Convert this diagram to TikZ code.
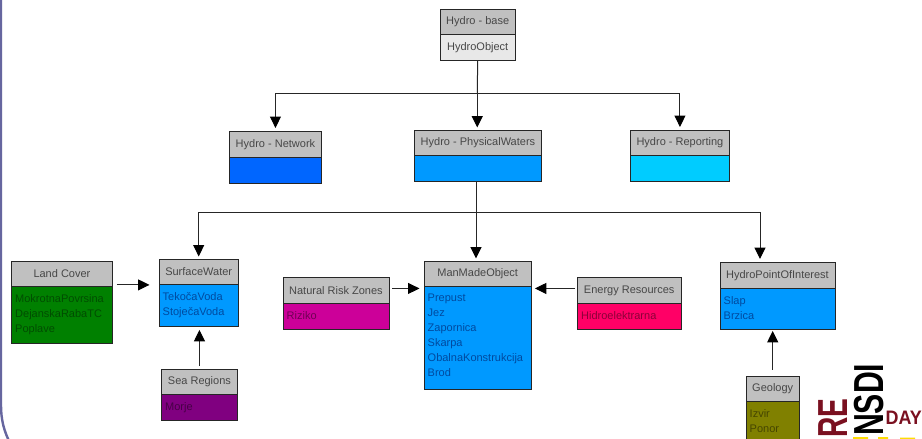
\documentclass[tikz,border=0pt]{standalone}
\usepackage{fontspec}
\setmainfont{Liberation Sans}
\usetikzlibrary{arrows.meta}
\definecolor{hdrgray}{HTML}{C0C0C0}
\definecolor{basegray}{HTML}{E8E8E8}
\definecolor{blueA}{HTML}{0066FF}
\definecolor{blueB}{HTML}{0099FF}
\definecolor{blueC}{HTML}{00CCFF}
\definecolor{greenB}{HTML}{008000}
\definecolor{purpleB}{HTML}{800080}
\definecolor{magB}{HTML}{CC0099}
\definecolor{redB}{HTML}{FF0066}
\definecolor{oliveB}{HTML}{808000}
\definecolor{framec}{HTML}{66669F}
\definecolor{logored}{HTML}{7A1020}
\definecolor{blueT}{HTML}{004A9F}
\definecolor{greenT}{HTML}{004D00}
\tikzset{
  x=1pt,y=-1pt,
  boxline/.style={draw=black!85,line width=0.9pt},
  hdrtext/.style={text=black!72,font=\fontsize{11}{12}\selectfont,inner sep=0pt},
  bodytext/.style={font=\fontsize{11}{15}\selectfont,align=left,inner sep=0pt,anchor=north west},
  conn/.style={draw=black!85,line width=1pt},
  arr/.style={conn,-{Triangle[length=11.5pt,width=11pt,color=black]}},
  logotext/.style={font=\bfseries\fontsize{#1}{#1}\selectfont,inner sep=0pt},
}
% name, x1, y1, ymid, x2, y2, fill, header, body
\newcommand{\umlbox}[9]{%
  \node[boxline,fill=#7,minimum width=#5pt-#2pt,minimum height=#6pt-#3pt,inner sep=0pt,anchor=north west] (#1) at (#2,#3) {};
  \node[boxline,fill=hdrgray,minimum width=#5pt-#2pt,minimum height=#4pt-#3pt,inner sep=0pt,anchor=north west] (#1-h) at (#2,#3) {};
  \node[hdrtext] (#1-t) at (#1-h.center) {#8};
  \umlbody{#1}{#9}%
}
\newcommand{\umlbody}[2]{%
  \node[bodytext,text=\bodycol] (#1-b) at ([xshift=4pt,yshift=-7pt]#1-h.south west) {#2};
}
\def\bodycol{black}
\begin{document}
\begin{tikzpicture}
\useasboundingbox (0,0) rectangle (922,439);
\fill[white] (0,0) rectangle (922,439);
\clip (0,0) rectangle (922,439);

\draw[framec,line width=2.4pt] (1,-5) -- (1,405) .. controls (1,420) and (4,431) .. (10,443);

\def\bodycol{black!70!basegray}
\umlbox{base}{439.5}{8.5}{34}{515}{60}{basegray}{Hydro - base}{}
\node[hdrtext] (base-o) at ([yshift=-13pt]base-h.south) {HydroObject};
\umlbox{net}{229}{131}{157}{321}{183}{blueA}{Hydro - Network}{}
\umlbox{phys}{414}{129.5}{155}{541}{181}{blueB}{Hydro - PhysicalWaters}{}
\umlbox{rep}{630}{130}{155}{729}{181}{blueC}{Hydro - Reporting}{}

\def\bodycol{blueT}
\umlbox{sw}{158.5}{258.5}{284}{238}{326}{blueB}{SurfaceWater}{Teko\v{c}aVoda\\Stoje\v{c}aVoda}
\umlbox{mm}{423.5}{260.5}{286}{531}{389}{blueB}{ManMadeObject}{Prepust\\Jez\\Zapornica\\Skarpa\\ObalnaKonstrukcija\\Brod}
\umlbox{poi}{719.5}{262}{288}{834.5}{329}{blueB}{HydroPointOfInterest}{Slap\\Brzica}

\def\bodycol{greenT}
\umlbox{lc}{11}{261}{286}{112}{343}{greenB}{Land Cover}{MokrotnaPovrsina\\DejanskaRabaTC\\Poplave}
\def\bodycol{purpleB!55!black}
\umlbox{sea}{161}{369}{394}{237}{420}{purpleB}{Sea Regions}{Morje}
\def\bodycol{magB!55!black}
\umlbox{nrz}{282.5}{277}{303}{388.5}{329}{magB}{Natural Risk Zones}{Riziko}
\def\bodycol{redB!55!black}
\umlbox{en}{577}{277}{303}{680.5}{329}{redB}{Energy Resources}{Hidroelektrarna}
\def\bodycol{oliveB!55!black}
\umlbox{geo}{745.5}{375.5}{401}{799}{450}{oliveB}{Geology}{Izvir\\Ponor}

% upper tree
\coordinate (t1) at (477.25,93);
\draw[conn] (base.south) -- (t1);
\draw[arr,shorten >=3pt] (t1) -| (net.north);
\draw[arr,shorten >=2pt] (t1) -- (t1 |- phys.north);
\draw[arr,shorten >=3pt] (t1) -| (rep.north);
% lower tree
\coordinate (t2) at (476,212);
\coordinate (s2) at (476,181);
\coordinate (p2) at (760,262);
\draw[conn] (s2) -- (t2);
\draw[arr,shorten >=2pt] (t2) -| (sw.north);
\draw[arr,shorten >=2pt] (t2) -- (t2 |- mm.north);
\draw[arr,shorten >=3pt] (t2) -| (p2);
% side connectors
\draw[arr,shorten <=4pt,shorten >=9pt] (lc.east |- sw-h.south) -- (sw-h.south -| sw.west);
\draw[arr,shorten <=3pt,shorten >=3pt] (sea.north) -- (sea.north |- sw.south);
\draw[arr,shorten <=3pt,shorten >=4pt] ([yshift=15pt]nrz.east) -- ([yshift=15pt]nrz.east -| mm.west);
\draw[arr,shorten <=2pt,shorten >=3pt] ([yshift=15pt]en.west) -- ([yshift=15pt]en.west -| mm.east);
\draw[arr,shorten <=6pt,shorten >=1pt] (geo.north) -- (geo.north |- poi.south);

% logo
\node[logotext=42,text=logored,rotate=90,xscale=.67,anchor=base west] (logo-re) at (847,438) {RE};
\node[logotext=42,text=black,rotate=90,xscale=.72,anchor=base west] (logo-n) at (883,436) {NSDI};
\node[logotext=19.5,text=logored,xscale=.92,anchor=base west] (logo-d) at (885.5,424.5) {DAY};
\fill[yellow!80!orange] (853,437) rectangle (868,439) (878,437) rectangle (888,439) (900,437.5) rectangle (915,439);
\end{tikzpicture}
\end{document}
